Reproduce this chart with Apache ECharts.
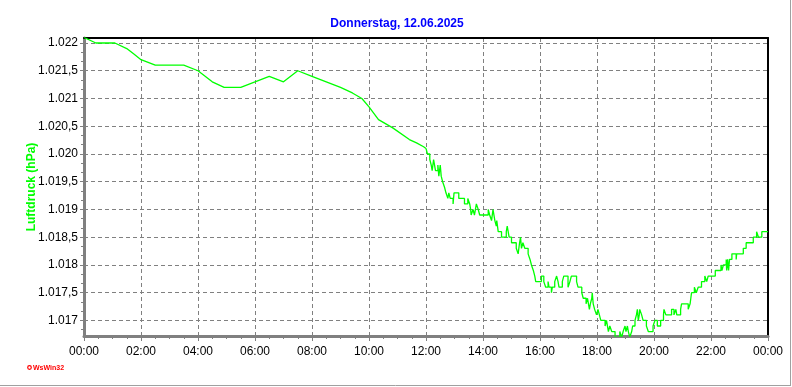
<!DOCTYPE html>
<html><head><meta charset="utf-8">
<script src="https://cdn.jsdelivr.net/npm/echarts@6/dist/echarts.min.js"></script>
<style>html,body{margin:0;padding:0;background:#fff}#c{width:792px;height:387px}</style>
</head><body><div id="c"></div>
<script>
const chartTitle = 'Donnerstag, 12.06.2025';
const yName = 'Luftdruck (hPa)';
const creditText = 'WsWin32';
const xTickHours = [0, 2, 4, 6, 8, 10, 12, 14, 16, 18, 20, 22, 24];
const yTickValues = [1017, 1017.5, 1018, 1018.5, 1019, 1019.5, 1020, 1020.5, 1021, 1021.5, 1022];
const yMin = 1016.72, yMax = 1022.09;

const smoothTimes = ['00:00','00:25','01:05','01:30','01:45','02:00','02:30','03:30','04:00','04:30','04:55','05:30','06:00','06:30','07:00','07:30','08:00','08:30','09:00','09:25','09:45','10:00','10:20','10:50','11:25','11:40','11:55','12:00'];
const smoothValues = [1022.1,1022.0,1022.0,1021.9,1021.8,1021.7,1021.6,1021.6,1021.5,1021.3,1021.2,1021.2,1021.3,1021.4,1021.3,1021.5,1021.4,1021.3,1021.2,1021.1,1021.0,1020.85,1020.62,1020.47,1020.26,1020.2,1020.13,1020.1];

const stepTimes = ['12:00','12:03','12:08','12:11','12:13','12:16','12:20','12:25','12:27','12:30','12:32','12:35','12:39','12:42','12:46','12:48','12:51','12:57','12:59','13:09','13:21','13:28','13:32','13:34','13:35','13:39','13:42','13:46','13:50','13:53','14:11','14:14','14:18','14:21','14:25','14:28','14:29','14:32','14:39','14:49','14:51','14:55','15:00','15:10','15:14','15:17','15:19','15:21','15:24','15:28','15:35','15:39','15:42','15:46','15:49','15:51','16:03','16:08','16:12','16:17','16:19','16:24','16:26','16:31','16:35','16:38','16:40','16:47','16:50','16:59','17:03','17:06','17:17','17:20','17:28','17:31','17:37','17:40','17:44','17:46','17:49','17:50','17:52','17:55','17:59','18:02','18:05','18:08','18:17','18:20','18:24','18:27','18:31','18:38','18:48','18:52','18:55','18:59','19:01','19:04','19:06','19:09','19:13','19:15','19:20','19:23','19:25','19:27','19:29','19:30','19:34','19:37','19:44','19:48','19:58','20:02','20:07','20:14','20:20','20:21','20:25','20:37','20:42','20:46','20:48','20:56','20:58','21:12','21:16','21:19','21:25','21:29','21:33','21:40','21:47','21:51','21:54','22:09','22:21','22:23','22:26','22:32','22:33','22:35','22:37','22:39','22:44','22:53','22:54','23:08','23:14','23:29','23:36','23:40','23:47','24:00'];
const stepValues = [1020.1,1020.0,1019.9,1019.8,1019.7,1019.9,1019.7,1019.8,1019.6,1019.8,1019.6,1019.5,1019.4,1019.3,1019.2,1019.3,1019.2,1019.1,1019.3,1019.2,1019.1,1019.2,1019.1,1019.0,1018.9,1019.0,1018.9,1019.1,1019.0,1018.9,1019.0,1018.9,1018.8,1019.0,1018.8,1018.7,1018.8,1018.6,1018.5,1018.6,1018.7,1018.5,1018.4,1018.3,1018.2,1018.4,1018.5,1018.3,1018.4,1018.3,1018.2,1018.1,1018.0,1017.9,1017.8,1017.7,1017.8,1017.7,1017.6,1017.7,1017.6,1017.5,1017.6,1017.7,1017.8,1017.7,1017.6,1017.7,1017.8,1017.6,1017.7,1017.8,1017.7,1017.6,1017.5,1017.4,1017.3,1017.4,1017.2,1017.3,1017.4,1017.5,1017.3,1017.2,1017.1,1017.2,1017.1,1017.0,1016.9,1017.0,1016.8,1016.9,1016.8,1016.7,1016.8,1016.7,1016.8,1016.9,1016.8,1016.9,1016.8,1016.7,1016.8,1016.9,1017.0,1017.1,1017.2,1017.0,1017.1,1017.2,1017.1,1017.0,1016.9,1016.8,1016.9,1017.0,1016.9,1017.0,1017.1,1017.2,1017.1,1017.2,1017.1,1017.2,1017.1,1017.2,1017.3,1017.2,1017.3,1017.5,1017.6,1017.5,1017.6,1017.7,1017.8,1017.7,1017.8,1017.9,1018.0,1017.9,1018.0,1018.1,1017.9,1018.1,1017.9,1018.1,1018.2,1018.1,1018.2,1018.3,1018.4,1018.5,1018.6,1018.5,1018.6,1018.6];

function toHours(s) { const p = s.split(':'); return +p[0] + (+p[1]) / 60; }
function pairs(times, values) { return times.map((t, i) => [toHours(t), values[i]]); }
function fmtY(v) {
  const r = Math.round(v * 10) / 10;
  const ip = Math.floor(r);
  const dec = Math.round((r - ip) * 10);
  const s = String(ip);
  const th = s.slice(0, s.length - 3) + '.' + s.slice(s.length - 3);
  return dec ? th + ',' + dec : th;
}
function fmtX(v) { const h = Math.round(v) % 24; return (h < 10 ? '0' : '') + h + ':00'; }
// minor y ticks: three divisions between labelled values
const yMinorTicks = [];
for (let k = -1; k <= 31; k++) { if (k % 3 !== 0) yMinorTicks.push(1017 + k / 6); }

const font = 'Liberation Sans';
const gray = '#808080';
const chart = echarts.init(document.getElementById('c'), null, {renderer: 'canvas'});
chart.setOption({
  animation: false,
  backgroundColor: '#ffffff',
  grid: {left: 84, right: 24, top: 38, bottom: 51, containLabel: false},
  xAxis: [{
    type: 'value', min: 0, max: 24, interval: 2,
    axisLine: {show: true, onZero: false, lineStyle: {color: gray, width: 3}},
    axisTick: {show: true, length: 5, lineStyle: {color: gray, width: 1}},
    minorTick: {show: true, splitNumber: 4, length: 3, lineStyle: {color: gray, width: 1}},
    axisLabel: {formatter: fmtX, color: '#000', fontSize: 12, fontFamily: font, margin: 10, showMaxLabel: true, showMinLabel: true},
    splitLine: {show: true, lineStyle: {type: [4, 3], color: gray, width: 1}}
  }, {
    type: 'value', position: 'top', min: 0, max: 24, interval: 2,
    axisLine: {show: true, onZero: false, lineStyle: {color: '#000', width: 2}},
    axisTick: {show: false}, axisLabel: {show: false}, splitLine: {show: false}
  }],
  yAxis: [{
    type: 'value', min: yMin, max: yMax,
    name: yName, nameLocation: 'middle', nameGap: 46, nameRotate: 90, nameMoveOverlap: false,
    nameTextStyle: {color: '#00ff00', fontWeight: 'bold', fontSize: 12, fontFamily: font},
    axisLine: {show: true, onZero: false, lineStyle: {color: gray, width: 3}},
    axisTick: {show: true, customValues: yTickValues, length: 4, lineStyle: {color: gray, width: 1}},
    axisLabel: {customValues: yTickValues, formatter: fmtY, color: '#000', fontSize: 12, fontFamily: font, margin: 6},
    splitLine: {show: true, lineStyle: {type: [4, 3], color: gray, width: 1}}
  }, {
    type: 'value', position: 'right', min: yMin, max: yMax,
    axisLine: {show: true, onZero: false, lineStyle: {color: '#000', width: 2}},
    axisTick: {show: false}, axisLabel: {show: false}, splitLine: {show: false}
  }, {
    type: 'value', position: 'left', min: yMin, max: yMax,
    axisLine: {show: false},
    axisTick: {show: true, customValues: yMinorTicks, length: 3, lineStyle: {color: gray, width: 1}},
    axisLabel: {show: false}, splitLine: {show: false}
  }],
  series: [{
    type: 'line', data: pairs(smoothTimes, smoothValues), showSymbol: false,
    lineStyle: {color: '#00ff00', width: 1.3}, xAxisIndex: 0, yAxisIndex: 0, z: 3
  }, {
    type: 'line', step: 'end', data: pairs(stepTimes, stepValues), showSymbol: false,
    lineStyle: {color: '#00ff00', width: 1.3}, xAxisIndex: 0, yAxisIndex: 0, z: 3
  }],
  graphic: [
    {type: 'text', x: 397, y: 24, style: {text: chartTitle, align: 'center', verticalAlign: 'middle', fill: '#0000ff', font: 'bold 12px "Liberation Sans"'}},
    {type: 'circle', shape: {cx: 29.5, cy: 367.5, r: 1.8}, style: {fill: 'none', stroke: '#ff0000', lineWidth: 1.2}},
    {type: 'text', x: 33, y: 368, style: {text: creditText, verticalAlign: 'middle', fill: '#ff0000', font: 'bold 7px "Liberation Sans"'}},
    {type: 'line', shape: {x1: 790.5, y1: 0, x2: 790.5, y2: 386}, style: {stroke: '#a0a0a0', lineWidth: 1}},
    {type: 'line', shape: {x1: 0, y1: 385.5, x2: 791, y2: 385.5}, style: {stroke: '#a0a0a0', lineWidth: 1}}
  ]
});
</script></body></html>
